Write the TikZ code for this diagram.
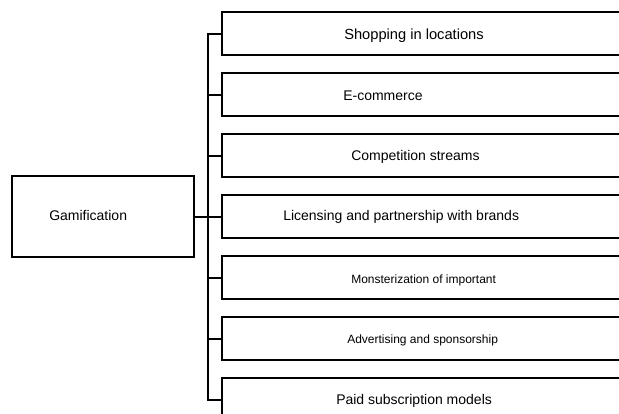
\documentclass[tikz,border=0pt]{standalone}
\usepackage{fontspec}
\setmainfont{Liberation Sans}
\usepackage{tikz}
\usetikzlibrary{positioning}
\tikzset{
  rootbox/.style={rectangle, draw=black, line width=1.5pt, outer sep=0pt,
                  minimum width=136.5pt, minimum height=60.75pt, inner sep=0pt},
  itembox/.style={rectangle, draw=black, line width=1.5pt, outer sep=0pt,
                  minimum width=420pt, minimum height=32.25pt, inner sep=0pt,
                  anchor=north west},
  lbl/.style={font=\fontsize{10.5}{12}\selectfont, inner sep=0pt, anchor=base west},
  slbl/.style={font=\fontsize{9}{11}\selectfont, inner sep=0pt, anchor=base west},
  link/.style={line width=1.5pt},
}
\begin{document}
\begin{tikzpicture}[x=0.75pt, y=-0.75pt, node distance=13.5pt]
  \useasboundingbox (0,0) rectangle (619,414);
  \clip (0,0) rectangle (619,414);
  \fill[white] (0,0) rectangle (619,414);

  % root
  \node[rootbox] (game) at (103,216.5) {};
  \node[lbl] (gametxt) at (49,220.7) {Gamification};

  % branches
  \node[itembox] (b1) at (222,12) {};
  \node[itembox, below=of b1.south west, anchor=north west] (b2) {};
  \node[itembox, below=of b2.south west, anchor=north west] (b3) {};
  \node[itembox, below=of b3.south west, anchor=north west] (b4) {};
  \node[itembox, below=of b4.south west, anchor=north west] (b5) {};
  \node[itembox, below=of b5.south west, anchor=north west] (b6) {};
  \node[itembox, below=of b6.south west, anchor=north west] (b7) {};

  \node[lbl, font=\fontsize{11}{13}\selectfont] (t1) at (344,39.3) {Shopping in locations};
  \node[lbl] (t2) at (343,100) {E-commerce};
  \node[lbl] (t3) at (351,160.7) {Competition streams};
  \node[lbl] (t4) at (283,220.7) {Licensing and partnership with brands};
  \node[slbl] (t5) at (351,283.3) {Monsterization of important};
  \node[slbl] (t6) at (347,343.3) {Advertising and sponsorship};
  \node[lbl] (t7) at (336,404) {Paid subscription models};

  % trunk and ticks
  \coordinate (top) at (208,0 |- b1.west);
  \coordinate (bot) at (208,0 |- b7.west);
  \draw[link] (b1.west) -| (top) -- (bot) -- (b7.west);
  \draw[link] (game.east) -- (b4.west);
  \foreach \b in {b2,b3,b5,b6}
    \draw[link] (top |- \b.west) -- (\b.west);
\end{tikzpicture}
\end{document}
